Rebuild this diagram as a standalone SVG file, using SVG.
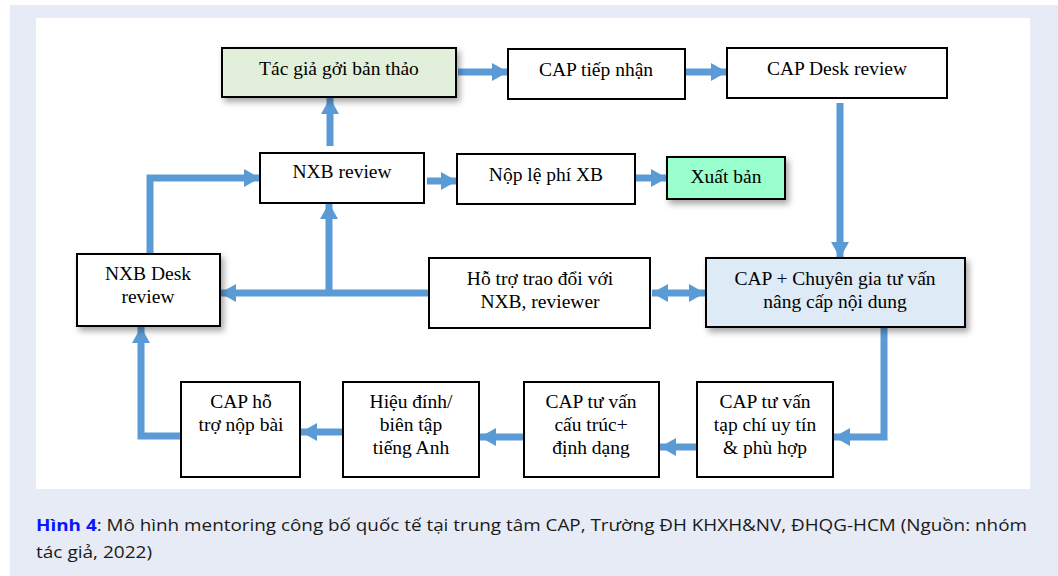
<svg xmlns="http://www.w3.org/2000/svg" width="1058" height="576" viewBox="0 0 1058 576">
<style>
.box{fill:#fff;stroke:#000;stroke-width:2}
.t{font-family:"Liberation Serif","Times New Roman",serif;font-size:19.5px;fill:#000;text-anchor:middle}
.c{fill:none;stroke:#5b9bd5;stroke-width:7;stroke-linejoin:miter}
.cap{font-family:"Open Sans","Noto Sans",sans-serif;font-size:16px;fill:#1a1a1a}
</style>
<defs>
<filter id="sh" x="-10%" y="-20%" width="130%" height="150%">
<feDropShadow dx="3" dy="4" stdDeviation="3" flood-color="#000" flood-opacity="0.35"/>
</filter>
<marker id="ah" viewBox="0 0 16 18" refX="16" refY="9" markerWidth="16" markerHeight="18" markerUnits="userSpaceOnUse" orient="auto-start-reverse">
<path d="M0,0 L16,9 L0,18 z" fill="#5b9bd5"/>
</marker>
</defs>
<rect x="0" y="0" width="1058" height="576" fill="#fff"/>
<rect x="10" y="5" width="1048" height="571" fill="#e7ebf6"/>
<rect x="36" y="18" width="994" height="471" fill="#fff"/>

<g id="connectors">
<path class="c" d="M458,72 H508" marker-end="url(#ah)"/>
<path class="c" d="M686,72 H727" marker-end="url(#ah)"/>
<path class="c" d="M840,103 V258" marker-end="url(#ah)"/>
<path class="c" d="M330,146 V98" marker-end="url(#ah)"/>
<path class="c" d="M150,253 V178 H260" marker-end="url(#ah)"/>
<path class="c" d="M427,181 H457" marker-end="url(#ah)"/>
<path class="c" d="M636,178 H667" marker-end="url(#ah)"/>
<path class="c" d="M430,293 H220" marker-end="url(#ah)"/>
<path class="c" d="M329,293 V203" marker-end="url(#ah)"/>
<path class="c" d="M652,293 H705" marker-start="url(#ah)" marker-end="url(#ah)"/>
<path class="c" d="M884,328 V437 H834" marker-end="url(#ah)"/>
<path class="c" d="M697,447 H660" marker-end="url(#ah)"/>
<path class="c" d="M523,437 H480" marker-end="url(#ah)"/>
<path class="c" d="M342,432 H301" marker-end="url(#ah)"/>
<path class="c" d="M181,436 H141 V327" marker-end="url(#ah)"/>
</g>

<g id="n-tacgia"><rect class="box" x="222" y="48" width="234" height="49" style="fill:#e2efda" filter="url(#sh)"/><text class="t" x="339" y="75">Tác giả gởi bản thảo</text></g>
<g id="n-tiepnhan"><rect class="box" x="508" y="49" width="177" height="50"/><text class="t" x="596" y="76">CAP tiếp nhận</text></g>
<g id="n-capdesk"><rect class="box" x="727" y="48" width="220" height="50"/><text class="t" x="837" y="75">CAP Desk review</text></g>
<g id="n-nxbreview"><rect class="box" x="260" y="153" width="164" height="50"/><text class="t" x="342" y="178">NXB review</text></g>
<g id="n-nople"><rect class="box" x="457" y="154" width="178" height="50"/><text class="t" x="546" y="181">Nộp lệ phí XB</text></g>
<g id="n-xuatban"><rect class="box" x="667" y="157" width="118" height="42" style="fill:#99ffcc" filter="url(#sh)"/><text class="t" x="726" y="183">Xuất bản</text></g>
<g id="n-nxbdesk"><rect class="box" x="77" y="254" width="143" height="72" filter="url(#sh)"/><text class="t" x="148" y="280">NXB Desk</text><text class="t" x="148" y="303">review</text></g>
<g id="n-hotro"><rect class="box" x="429" y="258" width="221" height="70"/><text class="t" x="540" y="285">Hỗ trợ trao đổi với</text><text class="t" x="540" y="308">NXB, reviewer</text></g>
<g id="n-capchuyengia"><rect class="box" x="706" y="258" width="259" height="69" style="fill:#deeaf6" filter="url(#sh)"/><text class="t" x="835" y="285">CAP + Chuyên gia tư vấn</text><text class="t" x="835" y="308">nâng cấp nội dung</text></g>
<g id="n-caphotro"><rect class="box" x="181" y="382" width="119" height="95"/><text class="t" x="241" y="408">CAP hỗ</text><text class="t" x="241" y="431">trợ nộp bài</text></g>
<g id="n-hieudinh"><rect class="box" x="343" y="382" width="136" height="95"/><text class="t" x="411" y="408">Hiệu đính/</text><text class="t" x="411" y="431">biên tập</text><text class="t" x="411" y="454">tiếng Anh</text></g>
<g id="n-cautruc"><rect class="box" x="524" y="382" width="135" height="95"/><text class="t" x="591" y="408">CAP tư vấn</text><text class="t" x="591" y="431">cấu trúc+</text><text class="t" x="591" y="454">định dạng</text></g>
<g id="n-tapchi"><rect class="box" x="697" y="382" width="136" height="95"/><text class="t" x="765" y="408">CAP tư vấn</text><text class="t" x="765" y="431">tạp chí uy tín</text><text class="t" x="765" y="454">&amp; phù hợp</text></g>

<text class="cap" x="36" y="531" textLength="991" lengthAdjust="spacingAndGlyphs"><tspan font-weight="bold" fill="#0a14ff">Hình 4</tspan>: Mô hình mentoring công bố quốc tế tại trung tâm CAP, Trường ĐH KHXH&amp;NV, ĐHQG-HCM (Nguồn: nhóm</text>
<text class="cap" x="36" y="558" textLength="116" lengthAdjust="spacingAndGlyphs">tác giả, 2022)</text>
</svg>
